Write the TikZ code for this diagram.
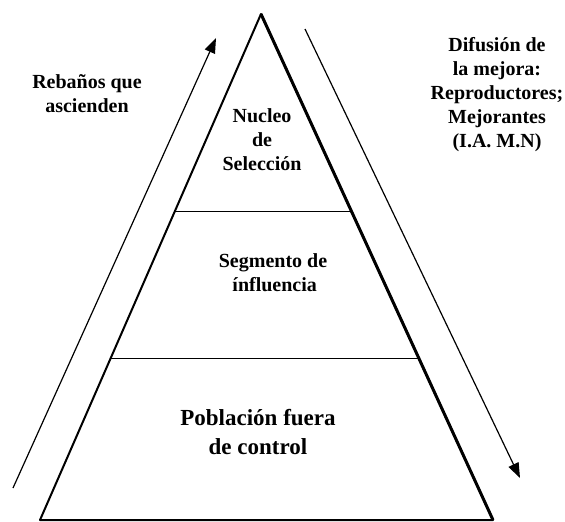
\documentclass[tikz,border=0pt]{standalone}
\usepackage{fontspec}
\setmainfont{Liberation Serif}
\usetikzlibrary{arrows.meta,calc}
\tikzset{label text/.style={
    font=\bfseries\fontsize{20}{24}\selectfont,
    align=center,
    inner sep=0pt
  },
  big text/.style={label text,
    font=\bfseries\fontsize{23}{29}\selectfont
  },
  side/.style={line width=2pt, line join=round},
  layer line/.style={line width=1.5pt},
  flow arrow/.style={line width=1.2pt,
    -{Triangle[length=15pt,width=11pt]}
  }
}

\begin{document}
\begin{tikzpicture}[x=1pt,y=-1pt]
        \useasboundingbox (0,0) rectangle (565,522);
        % piramide
        \coordinate (apex) at (261,14);
        \coordinate (bl) at (40,520);
        \coordinate (br) at (493,520);
        \coordinate (l1) at ($(bl)!0.6095!(apex)$);
        \coordinate (r1) at ($(br)!0.6095!(apex)$);
        \coordinate (l2) at ($(bl)!0.3195!(apex)$);
        \coordinate (r2) at ($(br)!0.3195!(apex)$);
        \draw[side] (bl) -- (apex) -- (br) -- cycle;
        \draw[line width=3pt] (apex) -- (br);
        \draw[layer line] (l1) -- (r1);
        \draw[layer line] (l2) -- (r2);
        % flechas
        \coordinate (up tail) at (13,488);
        \coordinate (up tip) at (216,38);
        \coordinate (down tail) at (305,29);
        \coordinate (down tip) at (520,478);
        \draw[flow arrow] (up tail) -- (up tip);
        \draw[flow arrow] (down tail) -- (down tip);
        % textos
        \node[label text] (nucleo) at (262,140) {Nucleo\\de\\Selección};
        \node[label text] (segmento) at (273,273) {Segmento de\\ \,ínfluencia};
        \node[big text] (poblacion) at (258,432) {Población fuera\\de control};
        \node[label text] (ascienden) at (87,94) {Rebaños que\\ascienden};
        \node[label text] (difusion) at (497,95) {Difusión de\\la mejora:\\Reproductores;\\Mejorantes\\(I.A. M.N)};
    \end{tikzpicture}
\end{document}
